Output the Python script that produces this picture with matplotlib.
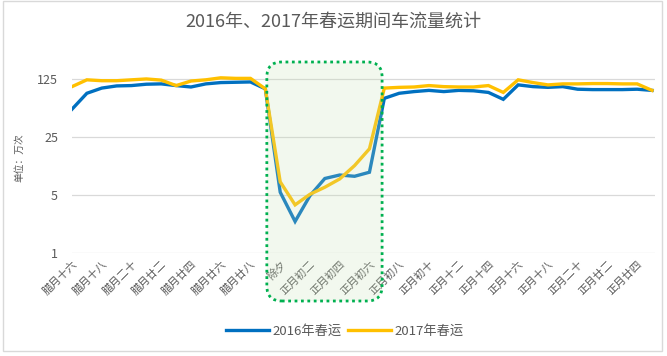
import matplotlib.pyplot as plt
from matplotlib.patches import FancyBboxPatch, Rectangle
from matplotlib.ticker import FixedLocator, NullLocator

plt.rcParams['font.family'] = ['Noto Sans CJK SC', 'DejaVu Sans']

# 腊月十六 ... 正月廿五, one point per day
days = ['腊月十六', '腊月十七', '腊月十八', '腊月十九', '腊月二十', '腊月廿一', '腊月廿二',
        '腊月廿三', '腊月廿四', '腊月廿五', '腊月廿六', '腊月廿七', '腊月廿八', '腊月廿九',
        '除夕', '正月初一', '正月初二', '正月初三', '正月初四', '正月初五', '正月初六',
        '正月初七', '正月初八', '正月初九', '正月初十', '正月十一', '正月十二', '正月十三',
        '正月十四', '正月十五', '正月十六', '正月十七', '正月十八', '正月十九', '正月二十',
        '正月廿一', '正月廿二', '正月廿三', '正月廿四', '正月廿五']

flow_2016 = [54, 84, 97, 103, 104, 108, 109, 104, 100, 109, 113, 114, 115, 95,
             5.4, 2.4, 4.9, 7.9, 8.7, 8.4, 9.4,
             73, 84, 88, 91, 88, 91, 90, 86, 71,
             106, 101, 99, 101, 94, 93, 93, 93, 94, 91]
flow_2017 = [101, 122, 119, 119, 122, 125, 121, 104, 118, 122, 129, 127, 127, 95,
             7.2, 3.8, 5.1, 6.2, 7.8, 11.3, 18,
             97, 99, 100, 104, 101, 100, 100, 104, 86,
             122, 113, 106, 109, 109, 110, 110, 109, 109, 91]

y_ticks = [1, 5, 25, 125]

fig = plt.figure(figsize=(6.67, 3.56), dpi=100)
ax = fig.add_axes([72 / 667, 1 - 253 / 356, 583 / 667, 191 / 356])

x = list(range(len(days)))
ax.plot(x, flow_2016, color='#0070C0', lw=2.4, label='2016年春运', solid_joinstyle='miter')
ax.plot(x, flow_2017, color='#FFC000', lw=2.4, label='2017年春运', solid_joinstyle='miter')

ax.set_yscale('log', base=5)
ax.set_ylim(1, 200)
ax.set_xlim(0, 39.2)
ax.yaxis.set_major_locator(FixedLocator(y_ticks))
ax.yaxis.set_minor_locator(NullLocator())
ax.set_yticklabels([str(v) for v in y_ticks], fontsize=9, color='#595959')
ax.grid(axis='y', color='#D9D9D9', lw=0.9)
ax.set_axisbelow(True)
for s in ax.spines.values():
    s.set_visible(False)
ax.tick_params(length=0, pad=6)
ax.tick_params(axis='y', pad=10)

ax.set_xticks(x[::2])
ax.set_xticklabels(days[::2], rotation=45, ha='right', va='top',
                   rotation_mode='anchor', fontsize=7.8, color='#595959')
ax.tick_params(axis='x', pad=4)

ax.set_ylabel('单位：万次', fontsize=7, color='#595959', labelpad=9)

# highlight box around the holiday week (drawn in inches so corners stay round)
fig.canvas.draw()
to_in = fig.dpi_scale_trans.inverted()
x0 = to_in.transform(ax.transData.transform((13.1, 1)))[0]
x1 = to_in.transform(ax.transData.transform((20.85, 1)))[0]
y_top = 3.56 - 62 / 100
y_bot = 3.56 - 301 / 100
box = FancyBboxPatch((x0, y_bot), x1 - x0, y_top - y_bot,
                     boxstyle='round,pad=0,rounding_size=0.15',
                     transform=fig.dpi_scale_trans, facecolor='#C5E0B4', alpha=0.22,
                     edgecolor='none', zorder=5)
fig.add_artist(box)
box_edge = FancyBboxPatch((x0, y_bot), x1 - x0, y_top - y_bot,
                          boxstyle='round,pad=0,rounding_size=0.15',
                          transform=fig.dpi_scale_trans, facecolor='none',
                          edgecolor='#00B050', lw=2, linestyle=(0, (1, 1.3)), zorder=6)
fig.add_artist(box_edge)

fig.text(0.5, 1 - 22 / 356, '2016年、2017年春运期间车流量统计', ha='center', va='center',
         fontsize=13, color='#595959')

fig.legend(loc='center', bbox_to_anchor=(345 / 667, 1 - 331 / 356), ncol=2, frameon=False,
           fontsize=9.5, handlelength=3.2, handletextpad=0.3, columnspacing=0.5,
           labelcolor='#595959')

# chart frame
fig.add_artist(Rectangle((3 / 667, 5 / 356), 659 / 667, 350 / 356, transform=fig.transFigure,
                         fill=False, edgecolor='#D9D9D9', lw=1))

fig.savefig('out.png', dpi=100)
